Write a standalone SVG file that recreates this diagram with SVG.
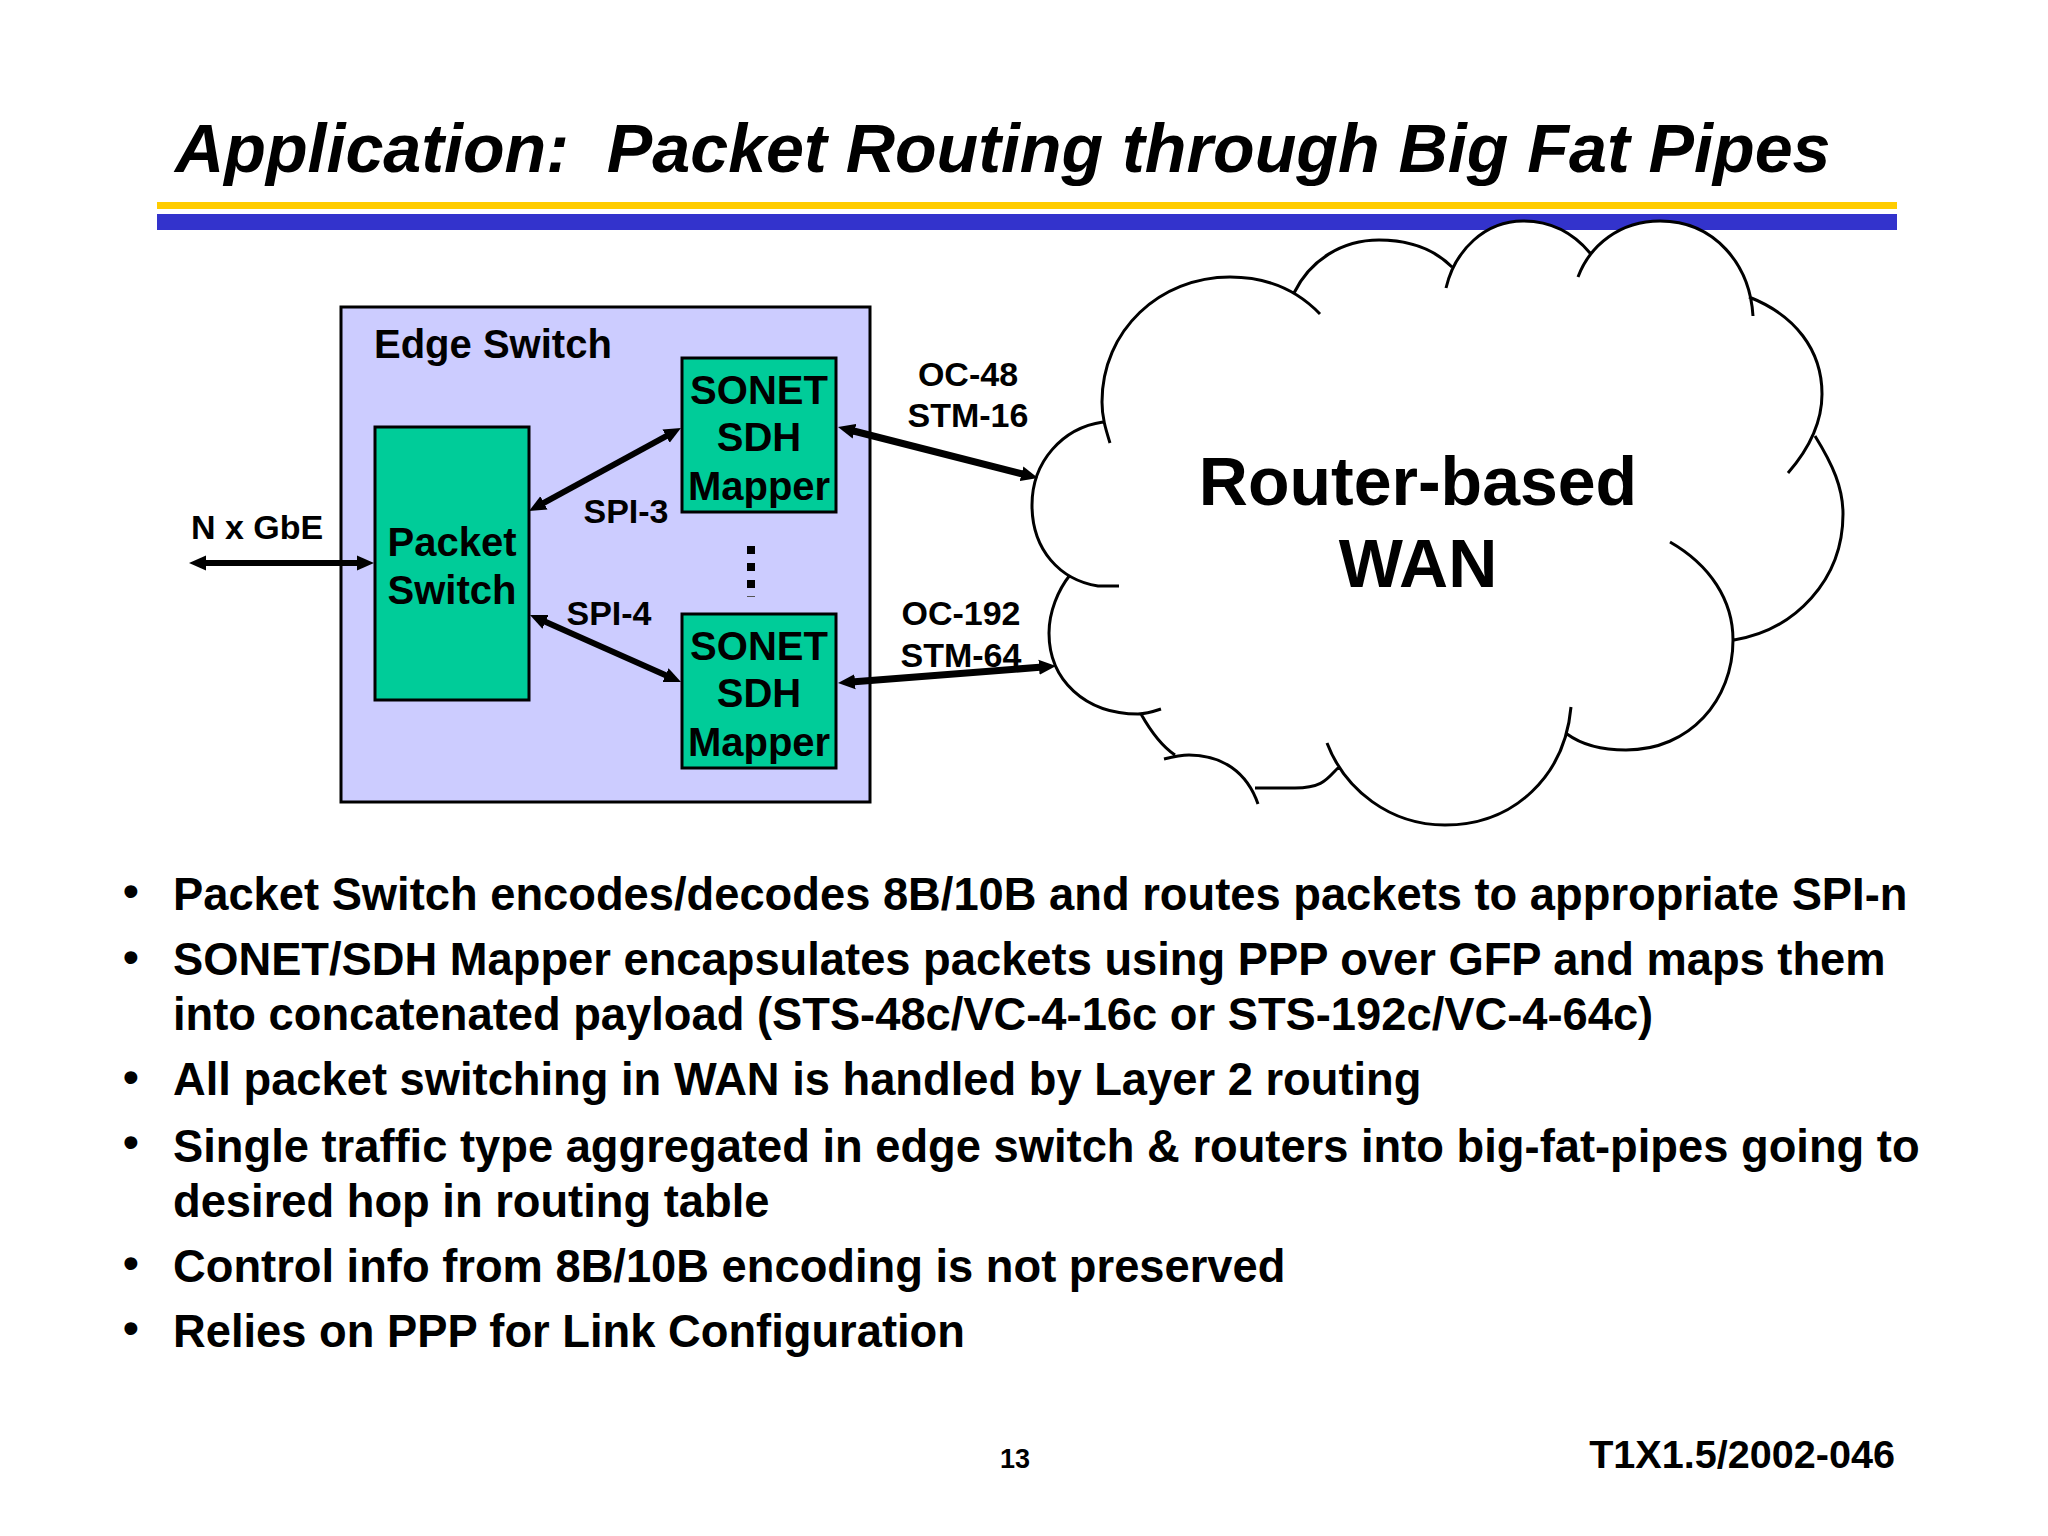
<svg xmlns="http://www.w3.org/2000/svg" width="2048" height="1536" viewBox="0 0 2048 1536">
<style>
text{font-family:"Liberation Sans",Arial,sans-serif;font-weight:700;fill:#000;white-space:pre}
.box{fill:#00CC99;stroke:#000;stroke-width:3}
.c{fill:none;stroke:#000;stroke-width:3;stroke-linecap:butt}
.n{font-size:40px;text-anchor:middle}
.l{font-size:34px;text-anchor:middle}
.b{font-size:45.3px}
.d{font-size:45px}
.a{fill:none;stroke:#000;stroke-width:6;marker-start:url(#h);marker-end:url(#h)}
.t{stroke-width:7}
</style>
<defs><marker id="h" markerUnits="userSpaceOnUse" markerWidth="18" markerHeight="16" refX="7" refY="8" orient="auto-start-reverse"><path d="M0 0.5L17 8L0 15.5Z" fill="#000"/></marker></defs>
<rect width="2048" height="1536" fill="#fff"/>
<text id="title" x="175" y="172" font-size="68.2" font-style="italic">Application:  Packet Routing through Big Fat Pipes</text>
<rect x="157" y="202" width="1740" height="7" fill="#FFCC00"/>
<rect x="157" y="214" width="1740" height="16" fill="#3333CC"/>
<g id="edge-switch"><rect x="341" y="307" width="529" height="495" fill="#CCCCFF" stroke="#000" stroke-width="3"/><text x="374" y="358" font-size="40">Edge Switch</text></g>
<g id="packet-switch"><rect class="box" x="375" y="427" width="154" height="273"/><text class="n" x="452" y="556">Packet</text><text class="n" x="452" y="604">Switch</text></g>
<g id="mapper-1"><rect class="box" x="682" y="358" width="154" height="154"/><text class="n" x="759" y="404">SONET</text><text class="n" x="759" y="451">SDH</text><text class="n" x="759" y="500">Mapper</text></g>
<g id="mapper-2"><rect class="box" x="682" y="614" width="154" height="154"/><text class="n" x="759" y="660">SONET</text><text class="n" x="759" y="707">SDH</text><text class="n" x="759" y="756">Mapper</text></g>
<g id="dots"><rect x="747" y="546" width="8" height="8"/><rect x="747" y="563" width="8" height="8"/><rect x="747" y="580" width="8" height="8"/><rect x="747" y="596" width="8" height="1" fill="#555"/></g>
<g id="wan"><path fill="#fff" d="M1446 288C1455 250 1485 221 1523 221C1553 221 1575 235 1590 253L1578 277C1590 245 1620 221 1660 221C1710 221 1745 255 1750 295L1753 316Z"/><path d="M1320 314C1295 288 1265 277 1230 277C1160 277 1102 330 1102 402C1102 418 1106 430 1110 443M1294 293C1310 260 1342 240 1379 240C1410 240 1435 250 1452 267M1446 288C1455 250 1485 221 1523 221C1553 221 1575 235 1590 253M1578 277C1590 245 1620 221 1660 221C1715 221 1750 265 1753 316M1749 297C1795 315 1822 350 1822 394C1822 425 1808 450 1788 473M1815 436C1833 465 1843 488 1843 514C1843 580 1795 630 1734 640M1670 542C1710 565 1733 600 1733 640C1733 700 1690 750 1626 750C1602 750 1582 745 1567 734M1571 707C1565 775 1515 825 1445 825C1390 825 1345 790 1327 743M1339 767C1328 777 1325 788 1295 788L1255 788M1164 759C1172 757 1180 755 1189 755C1222 755 1247 772 1258 804M1141 714C1150 730 1160 745 1175 755M1161 709C1152 712 1145 714 1138 714C1085 714 1049 680 1049 633C1049 612 1058 590 1070 575M1119 586C1112 586 1105 586 1098 586C1060 580 1032 550 1032 505C1032 462 1062 428 1103 422" class="c"/><text x="1418" y="505" font-size="68" text-anchor="middle">Router-based</text><text x="1418" y="587" font-size="68" text-anchor="middle">WAN</text></g>
<g id="connectors"><path class="a" d="M199 563H364"/><path class="a" d="M537.8 506.2L672.2 432.8"/><path class="a" d="M539.1 619.1L671.9 677.9"/><path class="a t" d="M847.7 429.5L1028.3 475.5"/><path class="a t" d="M848 682.2L1046 666.8"/></g>
<g id="labels"><text class="l" x="257" y="539">N x GbE</text><text class="l" x="626" y="523">SPI-3</text><text class="l" x="609" y="625">SPI-4</text><text class="l" x="968" y="386">OC-48</text><text class="l" x="968" y="427">STM-16</text><text class="l" x="961" y="625">OC-192</text><text class="l" x="961" y="667">STM-64</text></g>
<g id="bullets">
<text class="d" x="123" y="906">•</text><text class="b" x="173" y="909.5">Packet Switch encodes/decodes 8B/10B and routes packets to appropriate SPI-n</text>
<text class="d" x="123" y="972">•</text><text class="b" x="173" y="974.5">SONET/SDH Mapper encapsulates packets using PPP over GFP and maps them</text>
<text class="b" x="173" y="1029.5">into concatenated payload (STS-48c/VC-4-16c or STS-192c/VC-4-64c)</text>
<text class="d" x="123" y="1092">•</text><text class="b" x="173" y="1095">All packet switching in WAN is handled by Layer 2 routing</text>
<text class="d" x="123" y="1157">•</text><text class="b" x="173" y="1161.5">Single traffic type aggregated in edge switch &amp; routers into big-fat-pipes going to</text>
<text class="b" x="173" y="1216.5">desired hop in routing table</text>
<text class="d" x="123" y="1278">•</text><text class="b" x="173" y="1281.5">Control info from 8B/10B encoding is not preserved</text>
<text class="d" x="123" y="1343">•</text><text class="b" x="173" y="1347">Relies on PPP for Link Configuration</text>
</g>
<text id="page" x="1015" y="1468" font-size="27" text-anchor="middle">13</text>
<text id="doc" x="1895" y="1468" font-size="39.6" text-anchor="end">T1X1.5/2002-046</text>
</svg>
